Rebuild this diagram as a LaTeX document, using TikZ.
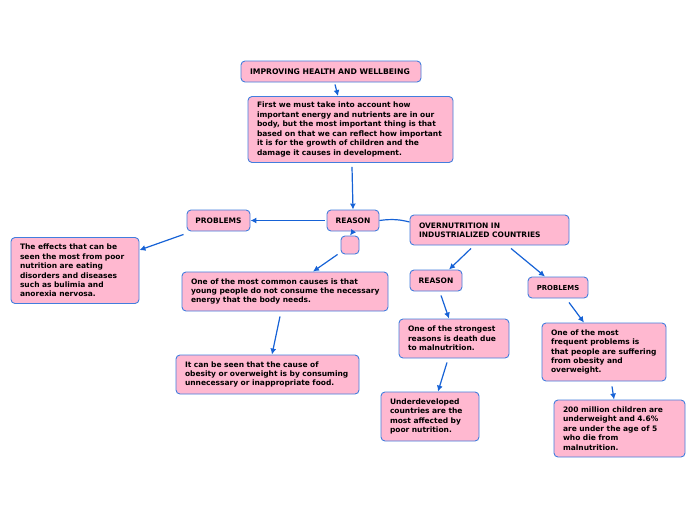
\documentclass[tikz,border=0pt]{standalone}
\usepackage{fontspec}
\setmainfont{DejaVu Sans}
\usetikzlibrary{arrows.meta,calc}
\definecolor{boxfill}{RGB}{255,184,208}
\definecolor{boxline}{RGB}{66,126,222}
\definecolor{arrowcol}{RGB}{22,98,214}
\newcommand{\myline}[1]{\mbox{#1}}
\tikzset{
  box/.style={draw=boxline, fill=boxfill, line width=0.9pt, rounded corners=4pt,
    inner xsep=9pt, inner ysep=0pt, align=left,
    font=\fontsize{7.5}{9.45}\selectfont\bfseries},
  tag/.style={box, align=center, inner xsep=0pt},
  conn/.style={draw=arrowcol, line width=1.2pt, -{Latex[length=6pt,width=6pt]}},
  link/.style={draw=arrowcol, line width=1.2pt},
}
\begin{document}
\begin{tikzpicture}[x=1pt,y=-1pt]
\useasboundingbox (0,0) rectangle (696,520);
% nodes
\node[box, minimum height=21, text width=162, font=\fontsize{7.7}{9.45}\selectfont\bfseries] (title) at (331,71.5) {\myline{IMPROVING HEALTH AND WELLBEING}};
\node[box, minimum height=66, text width=187] (intro) at (350.5,129.5) {\myline{First we must take into account how}\\\myline{important energy and nutrients are in our}\\\myline{body, but the most important thing is that}\\\myline{based on that we can reflect how important}\\\myline{it is for the growth of children and the}\\\myline{damage it causes in development.}};
\node[tag, minimum width=52, minimum height=21] (reason) at (353,220.5) {REASON};
\node[tag, minimum width=63, minimum height=21] (problems) at (218.5,220.5) {PROBLEMS};
\node[tag, minimum width=18, minimum height=18] (small) at (350,245) {};
\node[box, minimum height=66, text width=110] (effects) at (75,270.5) {\myline{The effects that can be}\\\myline{seen the most from poor}\\\myline{nutrition are eating}\\\myline{disorders and diseases}\\\myline{such as bulimia and}\\\myline{anorexia nervosa.}};
\node[box, minimum height=39, text width=188] (common) at (285,291.5) {\myline{One of the most common causes is that}\\\myline{young people do not consume the necessary}\\\myline{energy that the body needs.}};
\node[box, minimum height=39, text width=165] (obesity) at (267.5,374.5) {\myline{It can be seen that the cause of}\\\myline{obesity or overweight is by consuming}\\\myline{unnecessary or inappropriate food.}};
\node[box, minimum height=30, text width=141] (over) at (489.5,230) {\myline{OVERNUTRITION IN}\\\myline{INDUSTRIALIZED COUNTRIES}};
\node[tag, minimum width=52, minimum height=21] (reason2) at (436,280.5) {REASON};
\node[tag, minimum width=60, minimum height=21, font=\fontsize{6.9}{9}\selectfont\bfseries] (problems2) at (558,287.5) {PROBLEMS};
\node[box, minimum height=39, text width=92] (strongest) at (454,338.5) {\myline{One of the strongest}\\\myline{reasons is death due}\\\myline{to malnutrition.}};
\node[box, minimum height=49, text width=80] (underdev) at (430,416.5) {\myline{Underdeveloped}\\\myline{countries are the}\\\myline{most affected by}\\\myline{poor nutrition.}};
\node[box, minimum height=58, text width=106] (frequent) at (604,352) {\myline{One of the most}\\\myline{frequent problems is}\\\myline{that people are suffering}\\\myline{from obesity and}\\\myline{overweight.}};
\node[box, minimum height=57, text width=113] (million) at (619.5,428.5) {\myline{200 million children are}\\\myline{underweight and 4.6\%}\\\myline{are under the age of 5}\\\myline{who die from}\\\myline{malnutrition.}};
% connectors
\draw[conn] ($(title.south)+(4,2)$) -- ($(intro.north)+(-12.5,0)$);
\draw[conn] ($(intro.south)+(1.5,4)$) -- (reason.north);
\draw[conn] ($(reason.west)+(-2,0)$) -- (problems.east);
\draw[conn] ($(problems.south west)+(-3,3)$) -- ($(effects.north east)+(0,13)$);
\draw[conn] (reason.south) -- (small.north);
\draw[conn] ($(small.south west)+(-3,0)$) -- ($(common.north)+(28,0)$);
\draw[conn] ($(common.south)+(-5,5)$) -- ($(obesity.north)+(4.5,0)$);
\draw[link] (reason.east) .. controls +(14,-2) and +(-8,-2) .. ($(over.west)+(0,-8)$);
\draw[conn] ($(over.south)+(-18.5,3)$) -- ($(reason2.north)+(13,0)$);
\draw[conn] ($(over.south)+(21.5,3)$) -- ($(problems2.north)+(-13,0)$);
\draw[conn] ($(reason2.south)+(5,4)$) -- ($(strongest.north)+(-5,0)$);
\draw[conn] ($(strongest.south)+(-7,4)$) -- ($(underdev.north)+(8,0)$);
\draw[conn] ($(problems2.south)+(11,4)$) -- ($(frequent.north)+(-20,0)$);
\draw[conn] ($(frequent.south)+(8,5)$) -- ($(million.north)+(-5.5,0)$);
\end{tikzpicture}
\end{document}
